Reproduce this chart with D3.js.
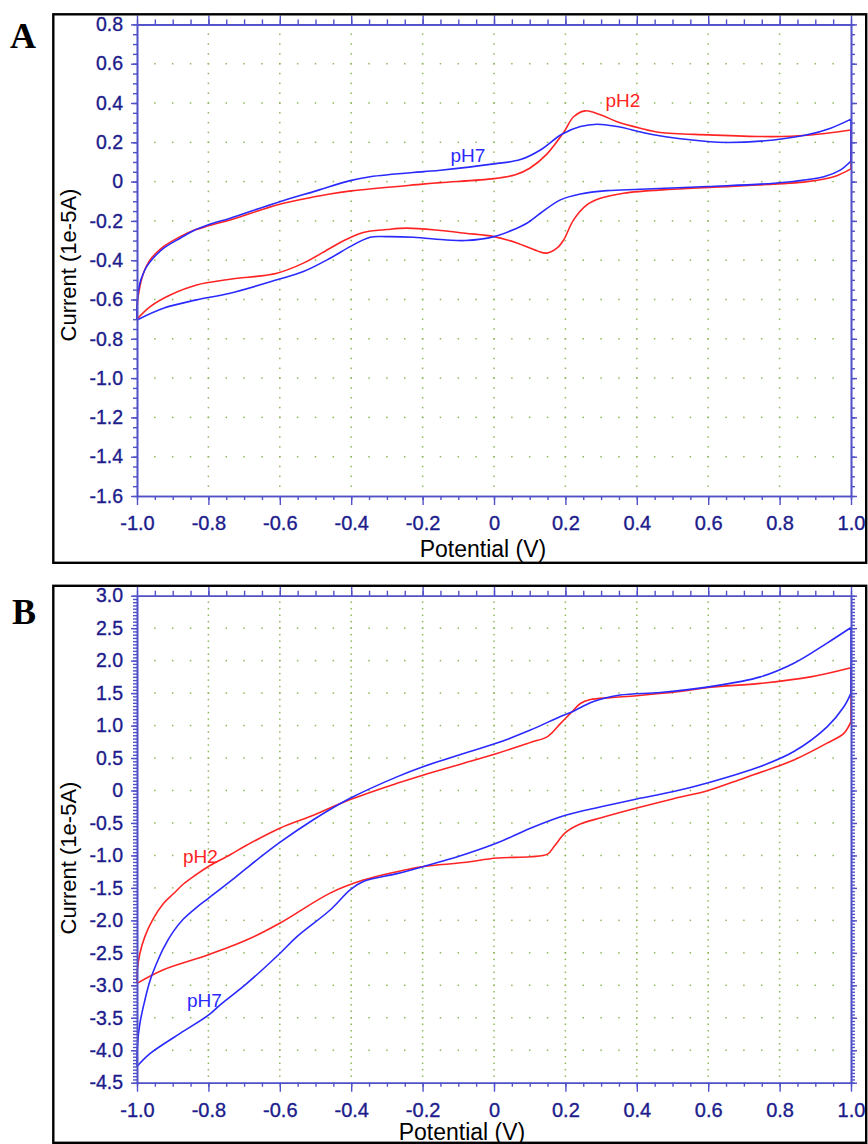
<!DOCTYPE html>
<html>
<head>
<meta charset="utf-8">
<title>CV pH2 / pH7</title>
<script src="https://d3js.org/d3.v7.min.js"></script>
<style>
  body { margin: 0; background: #fff; }
  svg { display: block; }
</style>
</head>
<body>
<svg width="868" height="1144"></svg>
<script>
// potential axis (V)
const potTicks  = [-1.0, -0.8, -0.6, -0.4, -0.2, 0, 0.2, 0.4, 0.6, 0.8, 1.0];
const potLabels = ["-1.0", "-0.8", "-0.6", "-0.4", "-0.2", "0", "0.2", "0.4", "0.6", "0.8", "1.0"];

// current axis, panel A (1e-5 A)
const curTicksA  = [0.8, 0.6, 0.4, 0.2, 0, -0.2, -0.4, -0.6, -0.8, -1.0, -1.2, -1.4, -1.6];
const curLabelsA = ["0.8", "0.6", "0.4", "0.2", "0", "-0.2", "-0.4", "-0.6", "-0.8", "-1.0", "-1.2", "-1.4", "-1.6"];

// current axis, panel B (1e-5 A)
const curTicksB  = [3.0, 2.5, 2.0, 1.5, 1.0, 0.5, 0, -0.5, -1.0, -1.5, -2.0, -2.5, -3.0, -3.5, -4.0, -4.5];
const curLabelsB = ["3.0", "2.5", "2.0", "1.5", "1.0", "0.5", "0", "-0.5", "-1.0", "-1.5", "-2.0", "-2.5", "-3.0", "-3.5", "-4.0", "-4.5"];

// panel A, [potential, current]; fwd = -1 -> +1, rev = +1 -> -1
const aPH2fwd = [[-1.0,-0.70],[-0.999,-0.62],[-0.992,-0.534],[-0.982,-0.466],[-0.973,-0.429],[-0.963,-0.398],[-0.95,-0.37],[-0.926,-0.331],[-0.879,-0.28],[-0.842,-0.249],[-0.80,-0.225],[-0.739,-0.195],[-0.60,-0.115],[-0.46,-0.063],[-0.40,-0.047],[-0.20,-0.013],[-0.15,-0.005],[0.0,0.015],[0.06,0.035],[0.10,0.068],[0.148,0.14],[0.195,0.25],[0.223,0.33],[0.256,0.36],[0.298,0.34],[0.345,0.305],[0.41,0.272],[0.466,0.25],[0.60,0.238],[0.78,0.229],[0.877,0.236],[1.0,0.263]];
const aPH2rev = [[1.0,0.065],[0.952,0.025],[0.877,0.0],[0.69,-0.022],[0.50,-0.039],[0.363,-0.059],[0.298,-0.085],[0.26,-0.119],[0.223,-0.195],[0.195,-0.297],[0.176,-0.339],[0.148,-0.364],[0.12,-0.352],[0.064,-0.312],[0.0,-0.28],[-0.08,-0.263],[-0.15,-0.249],[-0.244,-0.237],[-0.30,-0.244],[-0.366,-0.259],[-0.42,-0.30],[-0.459,-0.339],[-0.534,-0.415],[-0.608,-0.466],[-0.739,-0.497],[-0.833,-0.526],[-0.907,-0.577],[-0.963,-0.636],[-1.0,-0.70]];
const aPH7fwd = [[-1.0,-0.704],[-0.999,-0.60],[-0.992,-0.517],[-0.983,-0.47],[-0.973,-0.433],[-0.955,-0.39],[-0.926,-0.34],[-0.879,-0.288],[-0.842,-0.25],[-0.80,-0.22],[-0.739,-0.186],[-0.60,-0.102],[-0.496,-0.046],[-0.403,0.005],[-0.347,0.025],[-0.197,0.051],[-0.15,0.058],[0.0,0.09],[0.074,0.112],[0.13,0.161],[0.19,0.241],[0.242,0.28],[0.289,0.292],[0.345,0.28],[0.447,0.238],[0.597,0.204],[0.653,0.199],[0.784,0.212],[0.877,0.238],[0.943,0.272],[1.0,0.318]];
const aPH7rev = [[1.0,0.105],[0.971,0.06],[0.924,0.025],[0.784,-0.008],[0.597,-0.025],[0.41,-0.039],[0.317,-0.046],[0.242,-0.063],[0.186,-0.093],[0.13,-0.161],[0.092,-0.212],[0.064,-0.237],[0.0,-0.28],[-0.08,-0.30],[-0.132,-0.297],[-0.226,-0.283],[-0.30,-0.28],[-0.347,-0.283],[-0.403,-0.331],[-0.459,-0.39],[-0.534,-0.458],[-0.608,-0.50],[-0.739,-0.568],[-0.833,-0.602],[-0.926,-0.644],[-1.0,-0.704]];

// panel B
const bPH2fwd = [[-1.0,-2.97],[-0.999,-2.76],[-0.992,-2.51],[-0.978,-2.25],[-0.954,-1.97],[-0.926,-1.74],[-0.898,-1.59],[-0.87,-1.44],[-0.833,-1.29],[-0.80,-1.17],[-0.739,-0.99],[-0.692,-0.84],[-0.60,-0.58],[-0.506,-0.38],[-0.403,-0.14],[-0.272,0.11],[-0.197,0.24],[-0.085,0.42],[0.008,0.57],[0.102,0.74],[0.15,0.83],[0.186,1.03],[0.218,1.21],[0.242,1.34],[0.27,1.40],[0.326,1.43],[0.40,1.46],[0.513,1.52],[0.606,1.59],[0.746,1.65],[0.887,1.75],[1.0,1.89]];
const bPH2rev = [[1.0,1.06],[0.98,0.88],[0.933,0.73],[0.84,0.47],[0.793,0.37],[0.70,0.19],[0.60,0.0],[0.50,-0.13],[0.40,-0.27],[0.30,-0.42],[0.24,-0.52],[0.20,-0.65],[0.17,-0.85],[0.15,-0.98],[0.102,-1.02],[0.008,-1.04],[-0.085,-1.11],[-0.197,-1.17],[-0.272,-1.25],[-0.366,-1.38],[-0.459,-1.58],[-0.599,-2.04],[-0.692,-2.30],[-0.80,-2.53],[-0.926,-2.76],[-1.0,-2.97]];
const bPH7fwd = [[-1.0,-4.25],[-0.999,-3.95],[-0.992,-3.59],[-0.978,-3.23],[-0.963,-2.92],[-0.945,-2.66],[-0.926,-2.43],[-0.898,-2.17],[-0.87,-1.98],[-0.833,-1.80],[-0.80,-1.66],[-0.739,-1.40],[-0.692,-1.19],[-0.60,-0.80],[-0.506,-0.45],[-0.403,-0.12],[-0.272,0.21],[-0.197,0.37],[-0.085,0.57],[0.008,0.73],[0.102,0.93],[0.186,1.14],[0.218,1.21],[0.279,1.37],[0.354,1.47],[0.466,1.51],[0.606,1.60],[0.746,1.75],[0.84,1.96],[0.933,2.27],[1.0,2.51]];
const bPH7rev = [[1.0,1.50],[0.98,1.29],[0.933,0.98],[0.84,0.60],[0.746,0.37],[0.60,0.12],[0.50,-0.02],[0.40,-0.13],[0.30,-0.25],[0.20,-0.38],[0.102,-0.58],[0.008,-0.81],[-0.085,-0.99],[-0.197,-1.17],[-0.272,-1.28],[-0.366,-1.40],[-0.403,-1.53],[-0.459,-1.84],[-0.552,-2.25],[-0.60,-2.51],[-0.692,-2.97],[-0.767,-3.30],[-0.80,-3.46],[-0.879,-3.74],[-0.963,-4.05],[-1.0,-4.25]];

const RED = "#ff2424", BLUE = "#2a2aff";
const AXIS = "#5050c8", TICKTXT = "#1c1c8c", DOT = "#8fb85c";
const SANS = "'Liberation Sans', Arial, sans-serif";

const svg = d3.select("svg");

function drawPanel(o) {
  const x = d3.scaleLinear().domain([-1, 1]).range([137, 851]);
  const y = d3.scaleLinear().domain(o.yDomain).range([o.top, o.bottom]);
  const g = svg.append("g");

  const steps = (lo, hi, st) => d3.range(0, Math.round((hi - lo) / st) + 1).map(k => +(lo + k * st).toFixed(4));
  const xMinor = steps(-1, 1, 0.05);
  const yMinor = steps(o.yDomain[1], o.yDomain[0], 0.05);
  const yDots = steps(o.yDomain[1], o.yDomain[0], o.dotStep);
  const inner = (arr, lo, hi) => arr.filter(v => v > lo + 1e-6 && v < hi - 1e-6);

  // dotted grid: dots at minor steps along the major lines
  const dots = [];
  inner(potTicks, -1, 1).forEach(px => inner(yDots, o.yDomain[1], o.yDomain[0]).forEach(py => dots.push([px, py])));
  inner(o.yTicks, o.yDomain[1], o.yDomain[0]).forEach(py => inner(xMinor, -1, 1).forEach(px => dots.push([px, py])));
  g.append("g").selectAll("rect").data(dots).join("rect")
    .attr("x", d => x(d[0]) - 0.75).attr("y", d => y(d[1]) - 0.75)
    .attr("width", 1.5).attr("height", 1.5).attr("fill", DOT);

  // curves: smooth sweeps, straight switch at +1 V
  const clipId = "clip" + o.name;
  svg.append("clipPath").attr("id", clipId).append("rect")
    .attr("x", 136).attr("y", o.top - 1).attr("width", 716).attr("height", o.bottom - o.top + 2);
  const smooth = d3.line().x(d => x(d[0])).y(d => y(d[1])).curve(d3.curveCatmullRom.alpha(0.5));
  const straight = d3.line().x(d => x(d[0])).y(d => y(d[1]));
  o.series.forEach(s => {
    const d = smooth(s.fwd) + straight([s.fwd[s.fwd.length - 1], s.rev[0]]) + smooth(s.rev);
    g.append("path").attr("clip-path", `url(#${clipId})`).attr("d", d)
      .attr("fill", "none").attr("stroke", s.color).attr("stroke-width", 1.6)
      .attr("stroke-linejoin", "round");
  });

  // axes (major + minor on each side)
  const style = sel => {
    sel.select(".domain").attr("stroke", AXIS).attr("stroke-width", 1.6);
    sel.selectAll(".tick line").attr("stroke", AXIS).attr("stroke-width", 1.4);
  };
  const add = (axis, tr) => g.append("g").attr("transform", tr).call(axis).call(style);

  add(d3.axisLeft(y).tickValues(yMinor).tickSize(4).tickSizeOuter(0).tickFormat(""), "translate(137,0)");
  add(d3.axisRight(y).tickValues(yMinor).tickSize(4).tickSizeOuter(0).tickFormat(""), "translate(851,0)");
  add(d3.axisTop(x).tickValues(xMinor).tickSize(5).tickSizeOuter(0).tickFormat(""), `translate(0,${o.top})`);
  add(d3.axisBottom(x).tickValues(xMinor).tickSize(4).tickSizeOuter(0).tickFormat(""), `translate(0,${o.bottom})`);
  add(d3.axisRight(y).tickValues(o.yTicks).tickSize(6).tickSizeOuter(0).tickFormat(""), "translate(851,0)");
  add(d3.axisTop(x).tickValues(potTicks).tickSize(9).tickSizeOuter(0).tickFormat(""), `translate(0,${o.top})`);

  const yl = add(d3.axisLeft(y).tickValues(o.yTicks).tickSize(6).tickPadding(8).tickSizeOuter(0)
    .tickFormat((d, i) => o.yLabels[i]), "translate(137,0)");
  const xl = add(d3.axisBottom(x).tickValues(potTicks).tickSize(9).tickPadding(11).tickSizeOuter(0)
    .tickFormat((d, i) => potLabels[i]), `translate(0,${o.bottom})`);
  yl.attr("font-family", SANS).attr("font-size", 19.5);
  xl.attr("font-family", SANS).attr("font-size", 20);
  [yl, xl].forEach(a => a.selectAll("text").attr("fill", TICKTXT)
    .attr("stroke", TICKTXT).attr("stroke-width", 0.35));

  // series labels
  o.series.forEach(s => {
    g.append("text").attr("x", x(s.label[0])).attr("y", y(s.label[1]))
      .attr("fill", s.color).attr("font-family", SANS)
      .attr("font-size", 19).text(s.name);
  });

  // axis titles
  g.append("text").attr("transform", `translate(${o.yTitle[0]},${o.yTitle[1]}) rotate(-90)`)
    .attr("text-anchor", "middle").attr("font-family", SANS)
    .attr("font-size", 22).attr("fill", "#000").text("Current (1e-5A)");
  g.append("text").attr("x", o.xTitle[0]).attr("y", o.xTitle[1])
    .attr("text-anchor", "middle").attr("font-family", SANS)
    .attr("font-size", 23).attr("fill", "#000").text("Potential (V)");

  // frame + panel letter
  g.append("rect").attr("x", o.box[0]).attr("y", o.box[1])
    .attr("width", o.box[2] - o.box[0]).attr("height", o.box[3] - o.box[1])
    .attr("fill", "none").attr("stroke", "#000").attr("stroke-width", 2.4);
  g.append("text").attr("x", o.letter[0]).attr("y", o.letter[1])
    .attr("font-family", "'Liberation Serif', 'Times New Roman', serif").attr("font-weight", "bold")
    .attr("font-size", 36).attr("fill", "#000").text(o.name);
}

drawPanel({
  name: "A", yDomain: [0.8, -1.6], top: 24.4, bottom: 496, dotStep: 0.05,
  yTicks: curTicksA, yLabels: curLabelsA,
  series: [
    { name: "pH2", color: RED, fwd: aPH2fwd, rev: aPH2rev, label: [0.312, 0.38] },
    { name: "pH7", color: BLUE, fwd: aPH7fwd, rev: aPH7rev, label: [-0.122, 0.102] }
  ],
  yTitle: [76, 265], xTitle: [483, 557],
  box: [53.3, 14.3, 866.2, 562.8], letter: [10, 48]
});

drawPanel({
  name: "B", yDomain: [3.0, -4.5], top: 595.7, bottom: 1082.7, dotStep: 0.1,
  yTicks: curTicksB, yLabels: curLabelsB,
  series: [
    { name: "pH2", color: RED, fwd: bPH2fwd, rev: bPH2rev, label: [-0.871, -1.12] },
    { name: "pH7", color: BLUE, fwd: bPH7fwd, rev: bPH7rev, label: [-0.86, -3.33] }
  ],
  yTitle: [76, 858], xTitle: [462, 1140],
  box: [53.3, 585.8, 866.2, 1142.8], letter: [12, 624]
});
</script>
</body>
</html>
